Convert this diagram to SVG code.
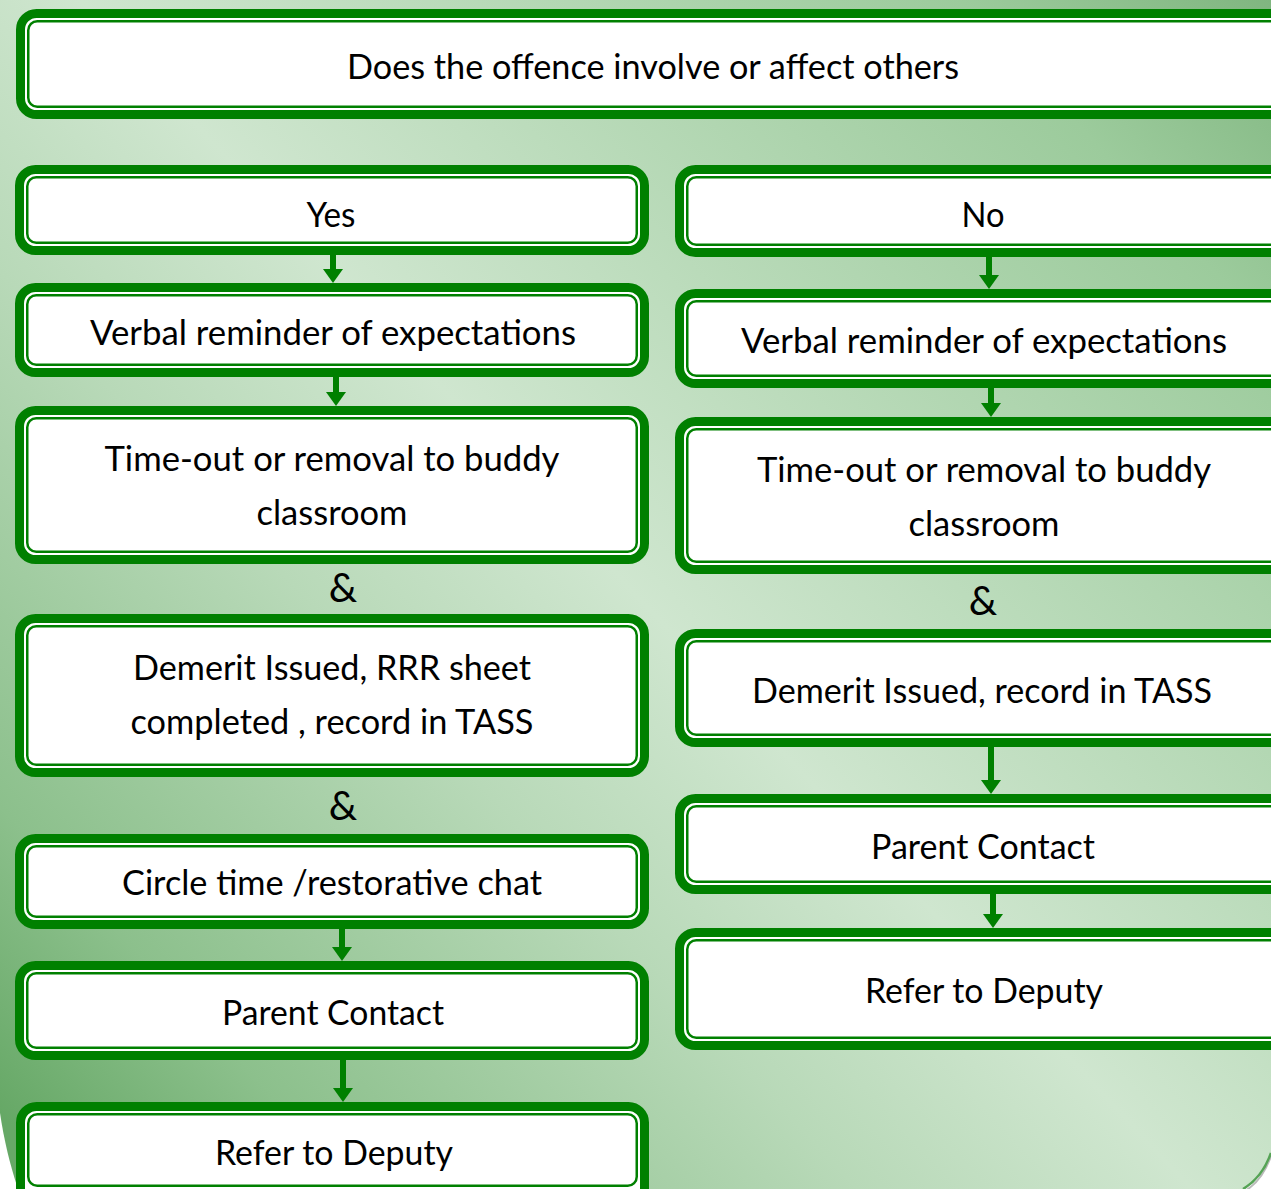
<svg xmlns="http://www.w3.org/2000/svg" width="1271" height="1189" viewBox="0 0 1271 1189">
<defs>
<linearGradient id="bg" gradientUnits="userSpaceOnUse" x1="1271" y1="0" x2="0" y2="1189">
<stop offset="0" stop-color="#80b680"/>
<stop offset="0.13" stop-color="#9ccb9c"/>
<stop offset="0.5" stop-color="#cfe6cf"/>
<stop offset="0.64" stop-color="#b8d9b8"/>
<stop offset="0.85" stop-color="#8cc08c"/>
<stop offset="0.97" stop-color="#66a866"/>
</linearGradient>
<marker id="ah" markerUnits="userSpaceOnUse" viewBox="0 0 14 20" refX="0" refY="10" markerWidth="14" markerHeight="20" orient="auto">
<path d="M0,0 L14,10 L0,20 Z" fill="#008000"/>
</marker>
</defs>
<style>
.outer{fill:#ffffff;stroke:#008000;stroke-width:9}
.inner{fill:none;stroke:#008000;stroke-width:2.5}
.t{font-family:Lato,"Open Sans","Liberation Sans",sans-serif;font-size:34px;fill:#000000;text-anchor:middle}
.amp{font-family:Lato,"Open Sans","Liberation Sans",sans-serif;font-size:40px;fill:#000000;text-anchor:middle}
.arr{stroke:#008000;stroke-width:6;fill:none;marker-end:url(#ah)}
</style>
<path d="M0,0 H1271 V1153 C1265,1170 1255,1182 1243,1189 H18 C10,1165 4,1140 0,1113 Z" fill="url(#bg)"/>
<path d="M1271,1156 C1265,1173 1255,1185 1245,1191" fill="none" stroke="#8a8a8a" stroke-width="2" opacity="0.6"/>
<path d="M1271,1153 C1265,1170 1255,1182 1243,1189" fill="none" stroke="#55a355" stroke-width="2.5"/>

<g id="connectors">
<line class="arr" x1="333" y1="255" x2="333" y2="269"/>
<line class="arr" x1="336" y1="377" x2="336" y2="392"/>
<line class="arr" x1="342" y1="929" x2="342" y2="947"/>
<line class="arr" x1="343" y1="1060" x2="343" y2="1088"/>
<line class="arr" x1="989" y1="257" x2="989" y2="275"/>
<line class="arr" x1="991" y1="388" x2="991" y2="403"/>
<line class="arr" x1="991" y1="747" x2="991" y2="780"/>
<line class="arr" x1="993" y1="894" x2="993" y2="914"/>
</g>

<g id="n-question">
<rect class="outer" x="20.5" y="13.5" width="1300" height="101" rx="16"/>
<rect class="inner" x="28.25" y="21.25" width="1290" height="85.5" rx="9"/>
<text class="t" x="653" y="78.5" textLength="612" lengthAdjust="spacingAndGlyphs">Does the offence involve or affect others</text>
</g>

<g id="n-yes">
<rect class="outer" x="19.5" y="169.5" width="625" height="81" rx="16"/>
<rect class="inner" x="27.25" y="177.25" width="609.5" height="65.5" rx="9"/>
<text class="t" x="331" y="226.5" textLength="49" lengthAdjust="spacingAndGlyphs">Yes</text>
</g>
<g id="n-no">
<rect class="outer" x="679.5" y="169.5" width="640" height="83" rx="16"/>
<rect class="inner" x="687.25" y="177.25" width="630" height="67.5" rx="9"/>
<text class="t" x="983" y="226.5" textLength="43" lengthAdjust="spacingAndGlyphs">No</text>
</g>

<g id="n-verbal-left">
<rect class="outer" x="19.5" y="287.5" width="625" height="85" rx="16"/>
<rect class="inner" x="27.25" y="295.25" width="609.5" height="69.5" rx="9"/>
<text class="t" x="333" y="344.5" textLength="486" lengthAdjust="spacingAndGlyphs">Verbal reminder of expectations</text>
</g>
<g id="n-verbal-right">
<rect class="outer" x="679.5" y="293.5" width="640" height="90" rx="16"/>
<rect class="inner" x="687.25" y="301.25" width="630" height="74.5" rx="9"/>
<text class="t" x="984" y="352.5" textLength="486" lengthAdjust="spacingAndGlyphs">Verbal reminder of expectations</text>
</g>

<g id="n-timeout-left">
<rect class="outer" x="19.5" y="410.5" width="625" height="149" rx="16"/>
<rect class="inner" x="27.25" y="418.25" width="609.5" height="133.5" rx="9"/>
<text class="t" x="332" y="470.5" textLength="455" lengthAdjust="spacingAndGlyphs">Time-out or removal to buddy</text>
<text class="t" x="332" y="524.5" textLength="151" lengthAdjust="spacingAndGlyphs">classroom</text>
</g>
<g id="n-timeout-right">
<rect class="outer" x="679.5" y="421.5" width="640" height="148" rx="16"/>
<rect class="inner" x="687.25" y="429.25" width="630" height="132.5" rx="9"/>
<text class="t" x="984" y="481.5" textLength="454" lengthAdjust="spacingAndGlyphs">Time-out or removal to buddy</text>
<text class="t" x="984" y="535.5" textLength="151" lengthAdjust="spacingAndGlyphs">classroom</text>
</g>

<g id="amp-1"><text class="amp" x="343" y="602">&amp;</text></g>
<g id="amp-2"><text class="amp" x="343" y="820">&amp;</text></g>
<g id="amp-3"><text class="amp" x="983" y="615">&amp;</text></g>

<g id="n-demerit-left">
<rect class="outer" x="19.5" y="618.5" width="625" height="154" rx="16"/>
<rect class="inner" x="27.25" y="626.25" width="609.5" height="138.5" rx="9"/>
<text class="t" x="332" y="679.5" textLength="398" lengthAdjust="spacingAndGlyphs">Demerit Issued, RRR sheet</text>
<text class="t" x="332" y="733.5" textLength="403" lengthAdjust="spacingAndGlyphs">completed , record in TASS</text>
</g>
<g id="n-demerit-right">
<rect class="outer" x="679.5" y="633.5" width="640" height="109" rx="16"/>
<rect class="inner" x="687.25" y="641.25" width="630" height="93.5" rx="9"/>
<text class="t" x="982" y="702.5" textLength="460" lengthAdjust="spacingAndGlyphs">Demerit Issued, record in TASS</text>
</g>

<g id="n-circle">
<rect class="outer" x="19.5" y="838.5" width="625" height="86" rx="16"/>
<rect class="inner" x="27.25" y="846.25" width="609.5" height="70.5" rx="9"/>
<text class="t" x="332" y="894.5" textLength="420" lengthAdjust="spacingAndGlyphs">Circle time /restorative chat</text>
</g>

<g id="n-parent-left">
<rect class="outer" x="19.5" y="965.5" width="625" height="90" rx="16"/>
<rect class="inner" x="27.25" y="973.25" width="609.5" height="74.5" rx="9"/>
<text class="t" x="333" y="1024.5" textLength="222" lengthAdjust="spacingAndGlyphs">Parent Contact</text>
</g>
<g id="n-parent-right">
<rect class="outer" x="679.5" y="798.5" width="640" height="91" rx="16"/>
<rect class="inner" x="687.25" y="806.25" width="630" height="75.5" rx="9"/>
<text class="t" x="983" y="858.5" textLength="224" lengthAdjust="spacingAndGlyphs">Parent Contact</text>
</g>

<g id="n-refer-left">
<rect class="outer" x="20.5" y="1106.5" width="624" height="120" rx="16"/>
<rect class="inner" x="28.25" y="1114.25" width="608.5" height="71.5" rx="9"/>
<text class="t" x="334" y="1164.5" textLength="238" lengthAdjust="spacingAndGlyphs">Refer to Deputy</text>
</g>
<g id="n-refer-right">
<rect class="outer" x="679.5" y="932.5" width="640" height="113" rx="16"/>
<rect class="inner" x="687.25" y="940.25" width="630" height="97.5" rx="9"/>
<text class="t" x="984" y="1002.5" textLength="238" lengthAdjust="spacingAndGlyphs">Refer to Deputy</text>
</g>
</svg>
